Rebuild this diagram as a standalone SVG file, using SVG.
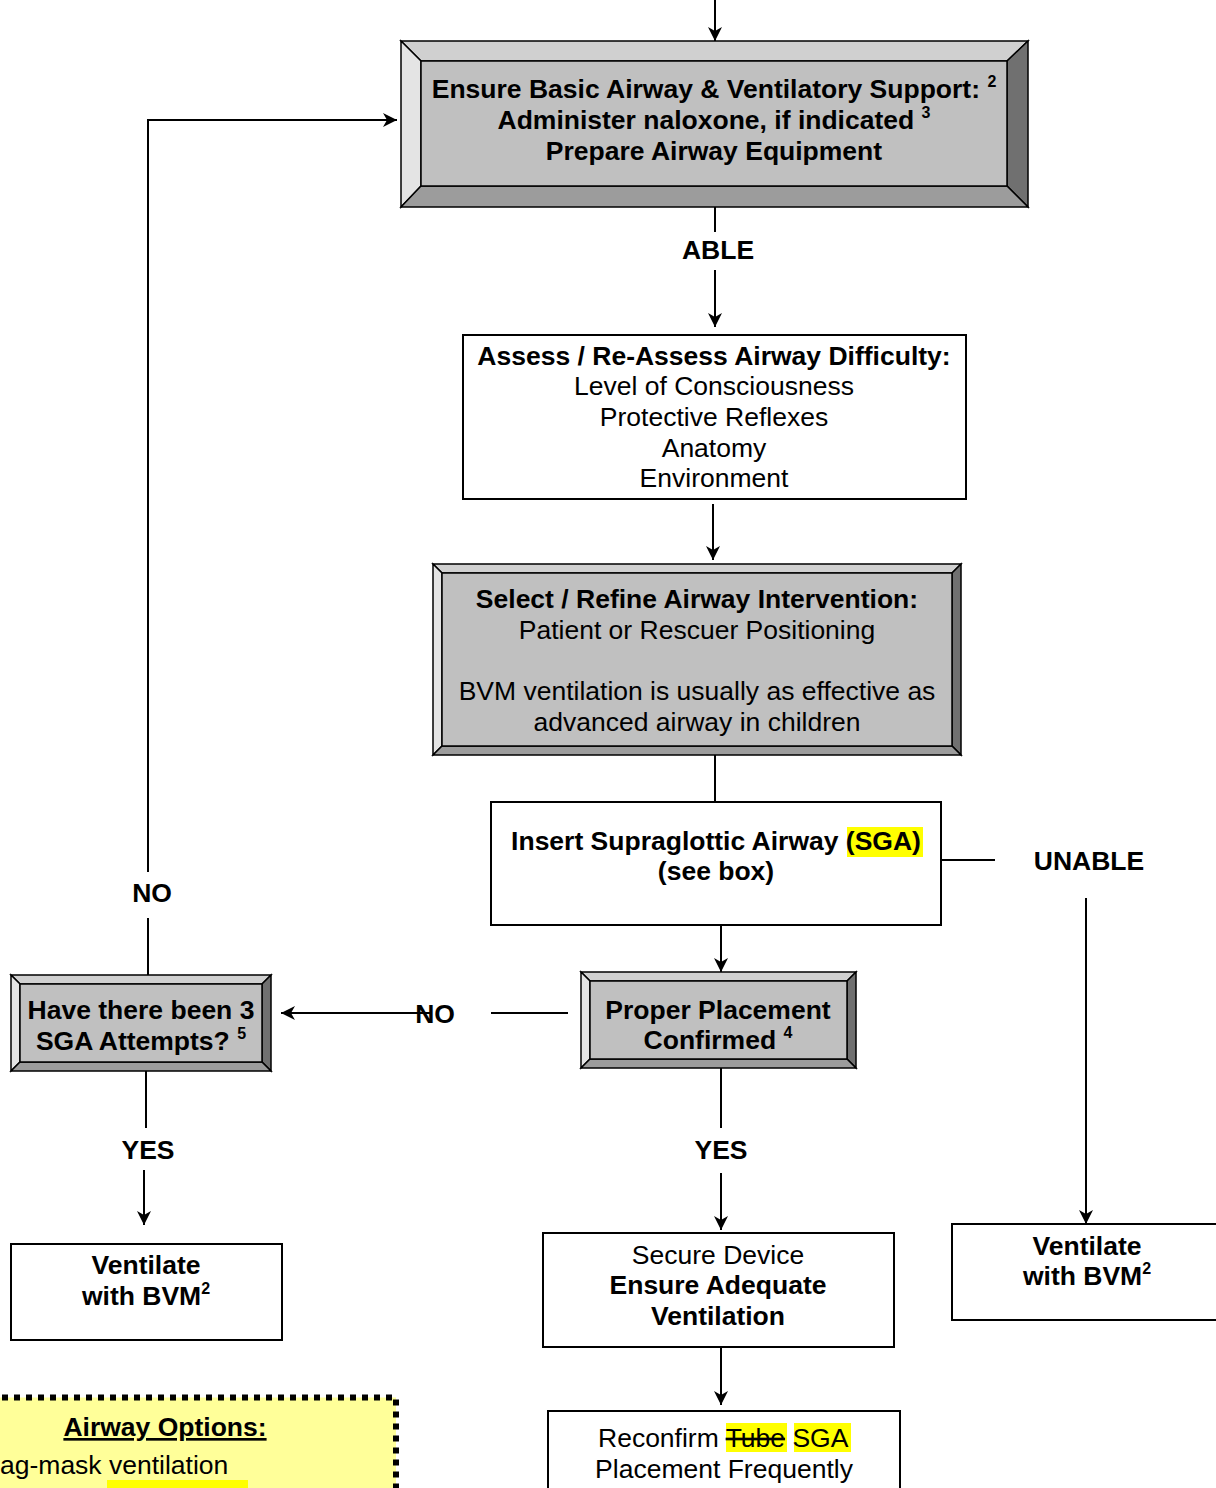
<svg xmlns="http://www.w3.org/2000/svg" width="1216" height="1488" viewBox="0 0 1216 1488">
<defs>
<marker id="arr" markerUnits="userSpaceOnUse" markerWidth="16" markerHeight="16" viewBox="0 0 16 16" refX="14" refY="8" orient="auto">
<path d="M0,1 L14,8 L0,15 L4,8 z" fill="#000"/>
</marker>
<style>
text{font-family:"Liberation Sans",Arial,sans-serif;font-size:26.5px;fill:#000;text-anchor:middle}
.b{font-weight:bold}
.sup{font-size:16px}
.box{fill:#fff;stroke:#000;stroke-width:2}
.bv polygon,.bv rect{stroke:#000;stroke-width:1.5;stroke-linejoin:miter}
.bt{fill:#d0d0d0}.bl{fill:#e4e4e4}.br{fill:#707070}.bb{fill:#9c9c9c}.bf{fill:#c0c0c0}
.c line,.c polyline{stroke:#000;stroke-width:2;fill:none}
.hl{fill:#ffff00}
</style>
</defs>

<g id="connectors" class="c">
<line x1="715" y1="0" x2="715" y2="41" marker-end="url(#arr)"/>
<line x1="715" y1="196" x2="715" y2="232"/>
<line x1="715" y1="270" x2="715" y2="327" marker-end="url(#arr)"/>
<line x1="713" y1="504" x2="713" y2="560" marker-end="url(#arr)"/>
<line x1="715" y1="755" x2="715" y2="802"/>
<line x1="941" y1="860" x2="995" y2="860"/>
<line x1="1086" y1="898" x2="1086" y2="1224" marker-end="url(#arr)"/>
<line x1="721" y1="925" x2="721" y2="972" marker-end="url(#arr)"/>
<line x1="568" y1="1013" x2="491" y2="1013"/>
<line x1="432" y1="1013" x2="281" y2="1013" marker-end="url(#arr)"/>
<line x1="148" y1="975" x2="148" y2="918"/>
<polyline points="148,872 148,120 397,120" marker-end="url(#arr)"/>
<line x1="146" y1="1071" x2="146" y2="1128"/>
<line x1="144" y1="1170" x2="144" y2="1225" marker-end="url(#arr)"/>
<line x1="721" y1="1068" x2="721" y2="1128"/>
<line x1="721" y1="1173" x2="721" y2="1230" marker-end="url(#arr)"/>
<line x1="721" y1="1347" x2="721" y2="1405" marker-end="url(#arr)"/>
</g>

<g id="labels">
<text class="b" x="718" y="259">ABLE</text>
<text class="b" x="1089" y="870">UNABLE</text>
<text class="b" x="435" y="1023">NO</text>
<text class="b" x="152" y="902">NO</text>
<text class="b" x="148" y="1159">YES</text>
<text class="b" x="721" y="1159">YES</text>
</g>

<g id="n-ensure" class="bv">
<polygon class="bt" points="401,41 1028,41 1007,61 421,61"/>
<polygon class="bl" points="401,41 421,61 421,186 401,207"/>
<polygon class="br" points="1028,41 1028,207 1007,186 1007,61"/>
<polygon class="bb" points="401,207 421,186 1007,186 1028,207"/>
<rect class="bf" x="421" y="61" width="586" height="125"/>
<text class="b" x="714" y="98">Ensure Basic Airway &amp; Ventilatory Support: <tspan class="sup" dy="-11">2</tspan></text>
<text class="b" x="714" y="129">Administer naloxone, if indicated <tspan class="sup" dy="-11">3</tspan></text>
<text class="b" x="714" y="160">Prepare Airway Equipment</text>
</g>

<g id="n-assess">
<rect class="box" x="463" y="335" width="503" height="164"/>
<text class="b" x="714" y="365">Assess / Re-Assess Airway Difficulty:</text>
<text x="714" y="395">Level of Consciousness</text>
<text x="714" y="426">Protective Reflexes</text>
<text x="714" y="457">Anatomy</text>
<text x="714" y="487">Environment</text>
</g>

<g id="n-select" class="bv">
<polygon class="bt" points="433,564 961,564 952,573 442,573"/>
<polygon class="bl" points="433,564 442,573 442,746 433,755"/>
<polygon class="br" points="961,564 961,755 952,746 952,573"/>
<polygon class="bb" points="433,755 442,746 952,746 961,755"/>
<rect class="bf" x="442" y="573" width="510" height="173"/>
<text class="b" x="697" y="608">Select / Refine Airway Intervention:</text>
<text x="697" y="639">Patient or Rescuer Positioning</text>
<text x="697" y="700">BVM ventilation is usually as effective as</text>
<text x="697" y="731">advanced airway in children</text>
</g>

<g id="n-insert">
<rect class="box" x="491" y="802" width="450" height="123"/>
<rect class="hl" x="847" y="827" width="76" height="30"/>
<text class="b" x="716" y="850">Insert Supraglottic Airway (SGA)</text>
<text class="b" x="716" y="880">(see box)</text>
</g>

<g id="n-proper" class="bv">
<polygon class="bt" points="581,972 856,972 847,981 590,981"/>
<polygon class="bl" points="581,972 590,981 590,1059 581,1068"/>
<polygon class="br" points="856,972 856,1068 847,1059 847,981"/>
<polygon class="bb" points="581,1068 590,1059 847,1059 856,1068"/>
<rect class="bf" x="590" y="981" width="257" height="78"/>
<text class="b" x="718" y="1019">Proper Placement</text>
<text class="b" x="718" y="1049">Confirmed <tspan class="sup" dy="-11">4</tspan></text>
</g>

<g id="n-attempts" class="bv">
<polygon class="bt" points="11,975 271,975 262,984 20,984"/>
<polygon class="bl" points="11,975 20,984 20,1062 11,1071"/>
<polygon class="br" points="271,975 271,1071 262,1062 262,984"/>
<polygon class="bb" points="11,1071 20,1062 262,1062 271,1071"/>
<rect class="bf" x="20" y="984" width="242" height="78"/>
<text class="b" x="141" y="1019">Have there been 3</text>
<text class="b" x="141" y="1050">SGA Attempts? <tspan class="sup" dy="-11">5</tspan></text>
</g>

<g id="n-bvm-left">
<rect class="box" x="11" y="1244" width="271" height="96"/>
<text class="b" x="146" y="1274">Ventilate</text>
<text class="b" x="146" y="1305">with BVM<tspan class="sup" dy="-11">2</tspan></text>
</g>

<g id="n-bvm-right">
<rect class="box" x="952" y="1224" width="270" height="96"/>
<text class="b" x="1087" y="1255">Ventilate</text>
<text class="b" x="1087" y="1285">with BVM<tspan class="sup" dy="-11">2</tspan></text>
</g>

<g id="n-secure">
<rect class="box" x="543" y="1233" width="351" height="114"/>
<text x="718" y="1264">Secure Device</text>
<text class="b" x="718" y="1294">Ensure Adequate</text>
<text class="b" x="718" y="1325">Ventilation</text>
</g>

<g id="n-reconfirm">
<rect class="box" x="548" y="1411" width="352" height="90"/>
<rect class="hl" x="726" y="1423" width="61" height="29"/>
<rect class="hl" x="794" y="1423" width="57" height="29"/>
<text x="598" y="1447" style="text-anchor:start">Reconfirm <tspan text-decoration="line-through">Tube</tspan> SGA</text>
<text x="724" y="1478">Placement Frequently</text>
</g>

<g id="n-options">
<rect x="-10" y="1397.5" width="406" height="110" fill="#ffff99" stroke="#000" stroke-width="6" stroke-dasharray="6 6"/>
<rect class="hl" x="107" y="1480" width="141" height="10"/>
<text class="b" x="165" y="1436" text-decoration="underline">Airway Options:</text>
<text x="0" y="1474" style="text-anchor:start">ag-mask ventilation</text>
</g>
</svg>
